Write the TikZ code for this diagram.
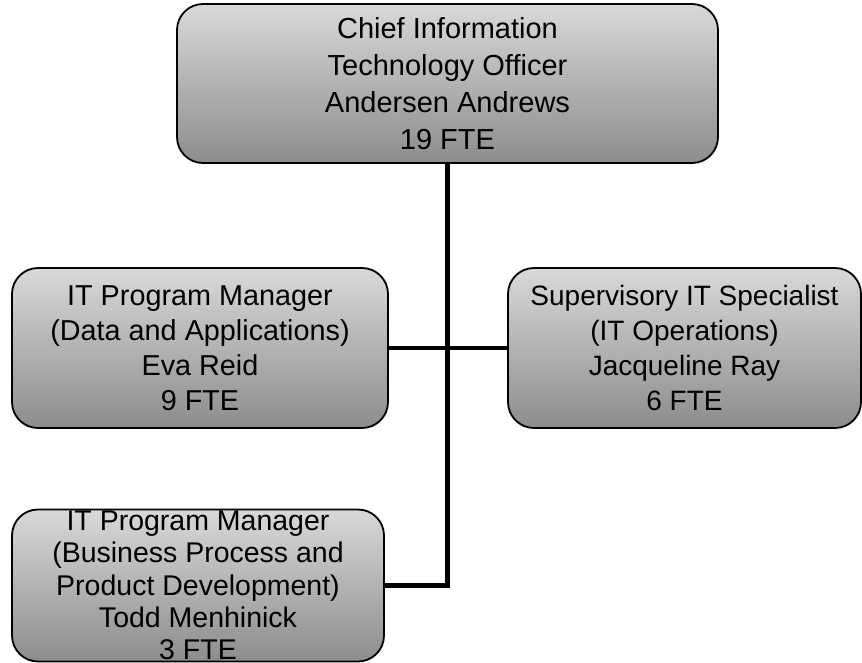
\documentclass[tikz,border=0pt]{standalone}
\usepackage{fontspec}
\setmainfont{Liberation Sans}
\begin{document}
\begin{tikzpicture}[x=1pt,y=-1pt,
  box/.style={draw=black, line width=1.8pt, rounded corners=26pt,
    top color=gray!30, bottom color=gray!90, align=center,
    inner sep=0pt, text=black},
  conn/.style={draw=black, line width=4.5pt}]
\useasboundingbox (0,0) rectangle (862,662);
\node[box, minimum width=541pt, minimum height=159pt,
  font=\fontsize{29pt}{37pt}\selectfont] (top) at (447.5,83.5)
  {Chief Information\\Technology Officer\\Andersen Andrews\\19 FTE};
\node[box, minimum width=376pt, minimum height=160pt,
  font=\fontsize{28.8pt}{35pt}\selectfont] (left) at (200,348)
  {IT Program Manager\\(Data and Applications)\\Eva Reid\\9 FTE};
\node[box, minimum width=353pt, minimum height=160pt,
  font=\fontsize{28pt}{35pt}\selectfont] (right) at (684.5,348)
  {Supervisory IT Specialist\\(IT Operations)\\Jacqueline Ray\\6 FTE};
\node[box, minimum width=372pt, minimum height=152pt,
  font=\fontsize{28.5pt}{32.2pt}\selectfont] (bot) at (198,585.5)
  {IT Program Manager\\(Business Process and\\Product Development)\\Todd Menhinick\\3 FTE};
\coordinate (turn) at (top.south |- bot.east);
\draw[conn] (top.south) -- (turn) -- (bot.east);
\draw[conn] (left.east) -- (right.west);
\end{tikzpicture}
\end{document}
